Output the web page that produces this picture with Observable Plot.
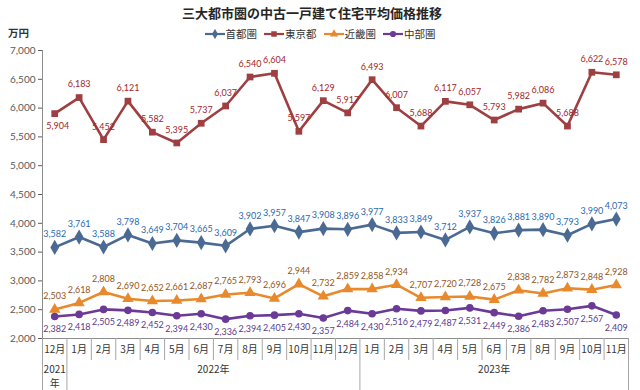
<!DOCTYPE html>
<html><head><meta charset="utf-8">
<script src="https://cdn.jsdelivr.net/npm/d3@7"></script>
<script src="https://cdn.jsdelivr.net/npm/@observablehq/plot@0.6"></script>
<style>
body{margin:0;background:#fff;font-family:"Noto Sans CJK JP",sans-serif;}
#wrap{position:relative;width:640px;height:390px;overflow:hidden;background:#fff}
#head{position:relative;height:45px}
#title{position:absolute;left:0;width:624px;text-align:center;top:3px;font-size:13px;font-weight:bold;color:#262626}
#unit{position:absolute;left:8px;top:27px;font-size:10.5px;font-weight:bold;color:#333;line-height:12px}
#legend{position:absolute;left:0;width:640px;top:27px;display:flex;justify-content:center;gap:7px;font-size:10.5px;color:#333;line-height:14px}
#legend span.it{display:flex;align-items:center;gap:1px}
</style></head>
<body><div id="wrap">
<div id="head"><div id="unit">万円</div><div id="title">三大都市圏の中古一戸建て住宅平均価格推移</div><div id="legend"></div></div>
<div id="chart"></div>
</div>
<script>
const months = ["12月","1月","2月","3月","4月","5月","6月","7月","8月","9月","10月","11月","12月","1月","2月","3月","4月","5月","6月","7月","8月","9月","10月","11月"];
const years = ["2021\n年","2022年","2023年"];
const yearStart = [0,1,13];
const yearEnd = [0,12,23];
const seriesNames = ["首都圏","東京都","近畿圏","中部圏"];
const shutoken = [3582,3761,3588,3798,3649,3704,3665,3609,3902,3957,3847,3908,3896,3977,3833,3849,3712,3937,3826,3881,3890,3793,3990,4073];
const tokyo = [5904,6183,5452,6121,5582,5395,5737,6037,6540,6604,5597,6129,5917,6493,6007,5688,6117,6057,5793,5982,6086,5688,6622,6578];
const kinki = [2503,2618,2808,2690,2652,2661,2687,2765,2793,2696,2944,2732,2859,2858,2934,2707,2720,2728,2675,2838,2782,2873,2848,2928];
const chubu = [2382,2418,2505,2489,2452,2394,2430,2336,2394,2405,2430,2357,2484,2430,2516,2479,2487,2531,2449,2386,2483,2507,2567,2409];
const yTicks = [2000,2500,3000,3500,4000,4500,5000,5500,6000,6500,7000];

const values = [shutoken, tokyo, kinki, chubu];
const styles = [
  {line:"#4A6A94", label:"#2A6AB0", symbol:"diamond", r:4.6, below:false},
  {line:"#9E3F41", label:"#A3262A", symbol:"square", r:3.8, below:false},
  {line:"#E8892C", label:"#94561C", symbol:"triangle", r:4.2, below:false},
  {line:"#6B3A96", label:"#5B3A8E", symbol:"circle", r:3.8, below:true}
];
const fmt = d3.format(",");
const font = '"Noto Sans CJK JP", sans-serif';
const numFont = 'Lato, "Open Sans", sans-serif';

// legend
const lg = document.getElementById("legend");
const shapes = {diamond:d3.symbolDiamond, square:d3.symbolSquare, triangle:d3.symbolTriangle, circle:d3.symbolCircle};
seriesNames.forEach((n,k)=>{
  const s = styles[k];
  const it = document.createElement("span"); it.className="it";
  const path = d3.symbol(shapes[s.symbol], 30)();
  it.innerHTML = `<svg width="20" height="10"><line x1="0" x2="20" y1="5" y2="5" stroke="${s.line}" stroke-width="2.2"/><path d="${path}" transform="translate(10,5)" fill="${s.line}"/></svg><span>${n}</span>`;
  lg.appendChild(it);
});

const yearPos = years.map((y,k) => (yearStart[k] + yearEnd[k]) / 2);
const marks = [
  Plot.axisY({ticks: yTicks, tickFormat: fmt, tickSize: 4, tickPadding: 3, color: "#595959", fontSize: 10, fontFamily: numFont, label: null}),
  Plot.ruleX([-0.5], {stroke: "#8c8c8c"}),
  Plot.ruleY([2000], {stroke: "#8c8c8c"}),
  Plot.axisX({ticks: d3.range(0.5, 23, 1).filter(t => !yearStart.includes(t + 0.5)), tickSize: 22, tickFormat: () => "", stroke: "#a6a6a6", label: null}),
  Plot.axisX({ticks: [-0.5, ...yearStart.slice(1).map(t => t - 0.5), 23.5], tickSize: 52, tickFormat: () => "", stroke: "#a6a6a6", label: null}),
  Plot.axisX({ticks: d3.range(months.length), tickFormat: i => months[i], tickSize: 0, tickPadding: 7, fill: "#333", fontSize: 10, label: null}),
  Plot.axisX({ticks: yearPos, tickFormat: t => years[yearPos.indexOf(t)], tickSize: 0, tickPadding: 25, fill: "#333", fontSize: 10, lineHeight: 1.35, label: null})
];

values.forEach((vals, k) => {
  const s = styles[k];
  const rows = vals.map((v, i) => ({i, v}));
  marks.push(Plot.line(rows, {x: "i", y: "v", stroke: s.line, strokeWidth: 2.6}));
  marks.push(Plot.dot(rows, {x: "i", y: "v", symbol: s.symbol, r: s.r, fill: s.line, stroke: "none"}));
  const lowFirst = (d) => k === 1 && d.i === 0;
  marks.push(Plot.text(rows, {filter: d => !lowFirst(d), x: "i", y: "v", text: d => fmt(d.v), dy: s.below ? 13 : -13, fill: s.label, fontSize: 9, fontFamily: numFont}));
  if (k === 1) marks.push(Plot.text(rows, {filter: lowFirst, x: "i", y: "v", text: d => fmt(d.v), dy: 12, dx: 3, fill: s.label, fontSize: 9, fontFamily: numFont}));
});

const chart = Plot.plot({
  width: 640, height: 345,
  marginTop: 5, marginLeft: 42, marginRight: 12, marginBottom: 52,
  x: {type: "linear", domain: [-0.5, 23.5], axis: null},
  y: {domain: [2000, 7000], axis: null},
  style: {fontFamily: font, fontSize: "10px", background: "#fff", overflow: "visible"},
  marks
});
document.getElementById("chart").appendChild(chart);
</script>
</body></html>
